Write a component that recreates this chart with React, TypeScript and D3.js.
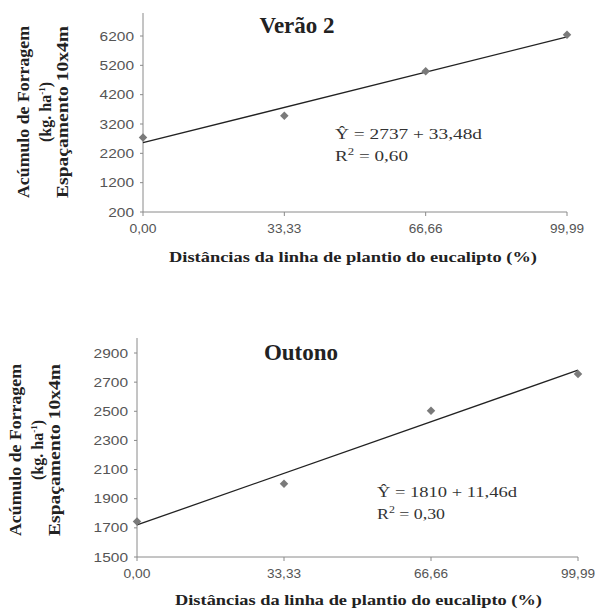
import React from 'react';
import * as d3 from 'd3';

// distâncias (%) e acúmulo de forragem
const distances = [0, 33.33, 66.66, 99.99];
const distanceLabels = ['0,00', '33,33', '66,66', '99,99'];

const veraoValues = [2740, 3480, 5000, 6240];
const veraoTicks = [200, 1200, 2200, 3200, 4200, 5200, 6200];

const outonoValues = [1743, 2002, 2503, 2756];
const outonoTicks = [1500, 1700, 1900, 2100, 2300, 2500, 2700, 2900];

const serif = '"Liberation Serif", "Times New Roman", serif';
const sans = '"Liberation Sans", Arial, sans-serif';

// ajuste linear (linha de tendência)
const fit = (xs: number[], ys: number[]) => {
  const mx = d3.mean(xs) || 0;
  const my = d3.mean(ys) || 0;
  const b = d3.sum(xs, (x, i) => (x - mx) * (ys[i] - my)) / d3.sum(xs, x => (x - mx) ** 2);
  return (x: number) => my + b * (x - mx);
};

type PanelProps = {
  title: string;
  values: number[];
  ticks: number[];
  xRange: [number, number];
  yRange: [number, number];
  axisTop: number;
  titlePos: [number, number];
  eq: string;
  r2: string;
  eqPos: [number, number];
  eqLen: [number, number];
  yTitleX: number[];
  yTitleCy: number;
  xTitleY: number;
  xTitleRange: [number, number];
};

const Panel = (p: PanelProps) => {
  const x = d3.scaleLinear().domain([0, 99.99]).range(p.xRange);
  const y = d3.scaleLinear().domain([p.ticks[0], p.ticks[p.ticks.length - 1]]).range(p.yRange);
  const f = fit(distances, p.values);
  const line = d3.line<number>().x(d => x(d)).y(d => y(f(d)));
  const diamond = d3.symbol().type(d3.symbolSquare).size(36)();
  const x0 = p.xRange[0];
  const yBase = p.yRange[0];
  const axisColor = '#8a8a8a';
  const yTitles = ['Acúmulo de Forragem', '(kg. ha', 'Espaçamento 10x4m'];
  return (
    <g>
      {/* eixos */}
      <line x1={x0} x2={x0} y1={p.axisTop} y2={yBase} stroke={axisColor} strokeWidth={1} />
      <line x1={x0} x2={p.xRange[1]} y1={yBase} y2={yBase} stroke={axisColor} strokeWidth={1} />
      {p.ticks.map(t => (
        <g key={t}>
          <line x1={x0 - 3} x2={x0} y1={y(t)} y2={y(t)} stroke={axisColor} />
          <text x={x0 - 9} y={y(t) + 4.5} textAnchor="end" fontFamily={sans} fontSize={12}
            fill="#555" textLength={String(t).length * 8.6} lengthAdjust="spacingAndGlyphs">{t}</text>
        </g>
      ))}
      {distances.map((d, i) => (
        <g key={d}>
          <line x1={x(d)} x2={x(d)} y1={yBase} y2={yBase + 4} stroke={axisColor} />
          <text x={x(d)} y={yBase + 21} textAnchor="middle" fontFamily={sans} fontSize={12}
            fill="#555" textLength={distanceLabels[i].length === 4 ? 27 : 34}
            lengthAdjust="spacingAndGlyphs">{distanceLabels[i]}</text>
        </g>
      ))}
      {/* linha de tendência */}
      <path d={line([0, 99.99]) || ''} fill="none" stroke="#222" strokeWidth={1.3} />
      {distances.map((d, i) => (
        <path key={d} d={diamond || ''} transform={`translate(${x(d)},${y(p.values[i])}) rotate(45)`} fill="#7a7a7a" />
      ))}
      {/* títulos */}
      <text x={p.titlePos[0]} y={p.titlePos[1]} textAnchor="middle" fontFamily={serif}
        fontWeight="bold" fontSize={23} fill="#222">{p.title}</text>
      <text x={p.eqPos[0]} y={p.eqPos[1]} fontFamily={serif} fontSize={15} fill="#333"
        textLength={p.eqLen[0]} lengthAdjust="spacingAndGlyphs">{p.eq}</text>
      <text x={p.eqPos[0]} y={p.eqPos[1] + 22} fontFamily={serif} fontSize={15} fill="#333"
        textLength={p.eqLen[1]} lengthAdjust="spacingAndGlyphs">
        R<tspan fontSize={10} dy={-6}>2</tspan><tspan dy={6}> = {p.r2}</tspan>
      </text>
      <text x={(p.xTitleRange[0] + p.xTitleRange[1]) / 2} y={p.xTitleY} textAnchor="middle"
        fontFamily={serif} fontWeight="bold" fontSize={15} fill="#222"
        textLength={p.xTitleRange[1] - p.xTitleRange[0]} lengthAdjust="spacingAndGlyphs">
        Distâncias da linha de plantio do eucalipto (%)
      </text>
      {yTitles.map((t, i) => (
        <text key={t} transform={`translate(${p.yTitleX[i]},${p.yTitleCy}) rotate(-90)`}
          textAnchor="middle" fontFamily={serif} fontWeight="bold" fontSize={16} fill="#222"
          textLength={i === 1 ? undefined : 172} lengthAdjust="spacingAndGlyphs">
          {t}{i === 1 ? <><tspan fontSize={9} dy={-6}>-1</tspan><tspan dy={6}>)</tspan></> : null}
        </text>
      ))}
    </g>
  );
};

export default function App() {
  return (
    <svg width={595} height={610} style={{ position: 'absolute', left: 0, top: 0, background: '#fff' }}>
      <Panel title="Verão 2" values={veraoValues} ticks={veraoTicks}
        xRange={[143, 567]} yRange={[212, 36]} axisTop={13} titlePos={[297, 33]}
        eq="Ŷ = 2737 + 33,48d" r2="0,60" eqPos={[335, 139]} eqLen={[147, 73]}
        yTitleX={[29, 51, 68]} yTitleCy={112} xTitleY={262} xTitleRange={[169, 537]} />
      <Panel title="Outono" values={outonoValues} ticks={outonoTicks}
        xRange={[137, 578]} yRange={[557, 353]} axisTop={338} titlePos={[301, 360]}
        eq="Ŷ = 1810 + 11,46d" r2="0,30" eqPos={[377, 497]} eqLen={[140, 68]}
        yTitleX={[21, 43, 60]} yTitleCy={450} xTitleY={605} xTitleRange={[175, 542]} />
    </svg>
  );
}
